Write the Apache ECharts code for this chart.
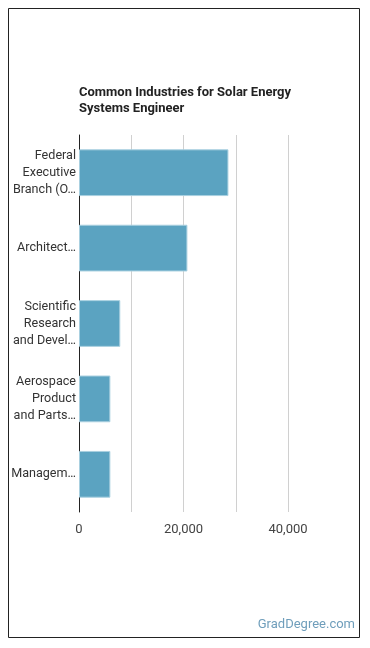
<!DOCTYPE html>
<html>
<head>
<meta charset="utf-8">
<title>Common Industries for Solar Energy Systems Engineer</title>
<script src="https://cdn.jsdelivr.net/npm/echarts@6/dist/echarts.min.js"></script>
<style>
  html, body { margin: 0; padding: 0; background: #fff; }
  #chart { width: 370px; height: 648px; }
</style>
</head>
<body>
<div id="chart"></div>
<script>
// data
var industries = [
  'Federal\nExecutive\nBranch (O…',
  'Architect…',
  'Scientific\nResearch\nand Devel…',
  'Aerospace\nProduct\nand Parts…',
  'Managem…'
];
var employed = [28600, 20750, 7900, 6000, 6000];
var xTicks = [0, 20000, 40000];

var chart = echarts.init(document.getElementById('chart'));

chart.setOption({
  animation: false,
  title: {
    text: 'Common Industries for Solar Energy\nSystems Engineer',
    left: 79,
    top: 85,
    padding: 0,
    textStyle: {
      fontFamily: 'Roboto',
      fontSize: 13,
      fontWeight: 'bold',
      color: '#222',
      lineHeight: 16
    }
  },
  grid: { left: 79, right: 82, top: 135, bottom: 136 },
  xAxis: {
    type: 'value',
    min: 0,
    max: 40000,
    interval: 10000,
    axisLine: { show: false },
    axisTick: { show: false },
    splitLine: { lineStyle: { color: '#d0d0d0', width: 1 } },
    axisLabel: {
      margin: 11,
      fontFamily: 'Roboto',
      fontSize: 13,
      color: '#444',
      formatter: function (v) {
        return xTicks.indexOf(v) >= 0 ? v.toLocaleString('en-US') : '';
      }
    }
  },
  yAxis: {
    type: 'category',
    inverse: true,
    data: industries,
    axisLine: { lineStyle: { color: '#222', width: 1 } },
    axisTick: { show: false },
    axisLabel: {
      margin: 3,
      fontFamily: 'Roboto',
      fontSize: 12.6,
      lineHeight: 17,
      color: '#333'
    }
  },
  series: [{
    type: 'bar',
    data: employed,
    barWidth: '62%',
    itemStyle: { color: '#5ba3c1', borderColor: '#a9d0e0', borderWidth: 1 }
  }],
  graphic: [
    {
      type: 'rect',
      shape: { x: 8.5, y: 8.5, width: 351, height: 629 },
      style: { fill: 'none', stroke: '#222', lineWidth: 1 },
      silent: true
    },
    {
      type: 'text',
      right: 15,
      top: 618,
      style: {
        text: 'GradDegree.com',
        fontFamily: 'Roboto',
        fontSize: 13,
        fill: '#6f9ebb'
      }
    }
  ]
});
</script>
</body>
</html>
